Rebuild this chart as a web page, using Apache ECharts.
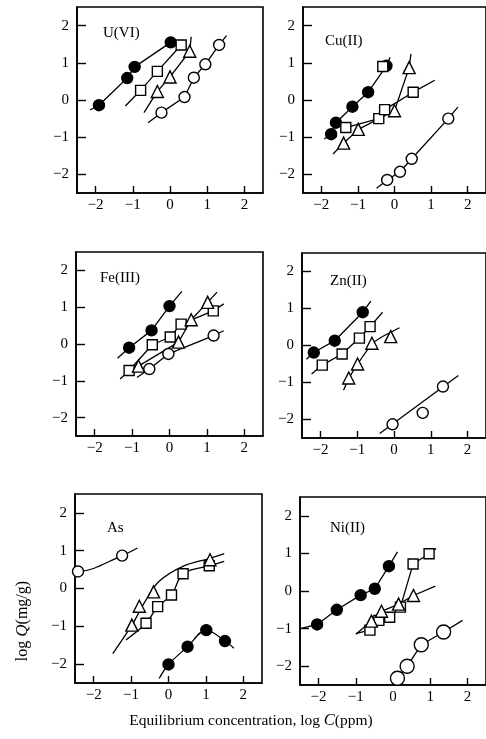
<!DOCTYPE html>
<html>
<head>
<meta charset="utf-8">
<script src="https://cdn.jsdelivr.net/npm/echarts@6/dist/echarts.min.js"></script>
<style>
  html, body { margin: 0; padding: 0; background: #fff; }
  #main { width: 486px; height: 739px; }
</style>
</head>
<body>
<div id="main"></div>
<script>
// tick values and panel names
var tickValues = [-2, -1, 0, 1, 2];
var panelNames = ['U(VI)', 'Cu(II)', 'Fe(III)', 'Zn(II)', 'As', 'Ni(II)'];

// U(VI)
var uFilled = [[-1.91, -0.14], [-1.15, 0.59], [-0.95, 0.89], [0.02, 1.55]];
var uFilledFit = [[-2.15, -0.27], [-1.91, -0.14], [-1.15, 0.59], [-0.95, 0.89], [0.02, 1.55]];
var uSquare = [[-0.79, 0.26], [-0.34, 0.77], [0.30, 1.48]];
var uSquareFit = [[-1.2, -0.16], [-0.79, 0.26], [-0.34, 0.77], [0.30, 1.48], [0.35, 1.52]];
var uTriangle = [[-0.34, 0.23], [0.0, 0.62], [0.53, 1.31]];
var uTriangleFit = [[-0.70, -0.34], [-0.34, 0.23], [0.0, 0.62], [0.53, 1.31], [0.57, 1.70]];
var uCircle = [[-0.23, -0.34], [0.39, 0.08], [0.64, 0.60], [0.95, 0.96], [1.32, 1.48]];
var uCircleFit = [[-0.59, -0.61], [-0.23, -0.34], [0.39, 0.08], [0.64, 0.60], [0.95, 0.96], [1.32, 1.48], [1.52, 1.73]];

// Cu(II)
var cuFilled = [[-1.73, -0.92], [-1.6, -0.61], [-1.15, -0.18], [-0.72, 0.21], [-0.22, 0.92]];
var cuFilledFit = [[-1.92, -1.05], [-1.73, -0.92], [-1.6, -0.61], [-1.15, -0.18], [-0.72, 0.21], [-0.22, 0.92], [-0.12, 1.15]];
var cuSquare = [[-1.33, -0.74], [-0.43, -0.5], [-0.27, -0.26], [0.51, 0.21], [-0.32, 0.9]];
var cuSquareFit = [[-1.33, -0.74], [-0.43, -0.5], [-0.27, -0.26], [0.51, 0.21], [1.1, 0.53]];
var cuTriangle = [[-1.39, -1.16], [-0.99, -0.79], [0.0, -0.29], [0.40, 0.87]];
var cuTriangleFit = [[-1.68, -1.45], [-1.39, -1.16], [-0.99, -0.79], [0.0, -0.29], [0.40, 0.87], [0.45, 1.24]];
var cuCircle = [[-0.2, -2.15], [0.15, -1.93], [0.47, -1.58], [1.47, -0.5]];
var cuCircleFit = [[-0.49, -2.37], [-0.2, -2.15], [0.15, -1.93], [0.47, -1.58], [1.47, -0.5], [1.73, -0.19]];

// Fe(III)
var feFilled = [[-1.08, -0.1], [-0.48, 0.37], [0, 1.03]];
var feFilledFit = [[-1.39, -0.39], [-1.08, -0.1], [-0.48, 0.37], [0, 1.03], [0.33, 1.43]];
var feSquare = [[-1.08, -0.72], [-0.46, -0.02], [0.02, 0.19], [0.31, 0.54], [1.17, 0.9]];
var feSquareFit = [[-1.32, -0.95], [-1.08, -0.72], [-0.46, -0.02], [0.02, 0.19], [0.31, 0.54], [1.17, 0.9], [1.45, 1.09]];
var feTriangle = [[-0.83, -0.6], [0.24, 0.05], [0.58, 0.66], [1.02, 1.13]];
var feTriangleFit = [[-1.0, -0.75], [-0.83, -0.6], [0.24, 0.05], [0.58, 0.66], [1.02, 1.13], [1.27, 1.41]];
var feCircle = [[-0.54, -0.68], [-0.03, -0.27], [1.18, 0.23]];
var feCircleFit = [[-0.87, -0.91], [-0.54, -0.68], [-0.03, -0.27], [1.18, 0.23], [1.45, 0.36]];

// Zn(II)
var znFilled = [[-2.18, -0.19], [-1.61, 0.13], [-0.85, 0.9]];
var znFilledFit = [[-2.38, -0.37], [-2.18, -0.19], [-1.61, 0.13], [-0.85, 0.9], [-0.63, 1.2]];
var znSquare = [[-1.95, -0.53], [-1.41, -0.23], [-0.94, 0.2], [-0.65, 0.51]];
var znSquareFit = [[-2.24, -0.77], [-1.95, -0.53], [-1.41, -0.23], [-0.94, 0.2], [-0.65, 0.51], [-0.31, 0.9]];
var znTriangle = [[-1.23, -0.88], [-0.99, -0.5], [-0.6, 0.06], [-0.09, 0.24]];
var znTriangleFit = [[-1.37, -1.21], [-1.23, -0.88], [-0.99, -0.5], [-0.6, 0.06], [-0.3, 0.25], [0.15, 0.48]];
var znCircle = [[-0.04, -2.13], [0.78, -1.82], [1.33, -1.11]];
var znCircleFit = [[-0.39, -2.38], [1.75, -0.81]];

// As
var asFilled = [[0, -2.01], [0.51, -1.54], [1.01, -1.1], [1.51, -1.39]];
var asFilledFit = [[-0.25, -2.38], [0, -2.01], [0.51, -1.54], [1.01, -1.1], [1.51, -1.39], [1.75, -1.58]];
var asSquare = [[-0.6, -0.92], [-0.29, -0.48], [0.08, -0.17], [0.39, 0.39], [1.09, 0.6]];
var asSquareFit = [[-1.14, -1.36], [-0.6, -0.92], [-0.29, -0.48], [0.08, -0.17], [0.39, 0.39], [1.09, 0.6], [1.49, 0.72]];
var asTriangle = [[-0.98, -0.97], [-0.78, -0.47], [-0.4, -0.09], [1.11, 0.76]];
var asTriangleFit = [[-1.49, -1.72], [-0.98, -0.97], [-0.6, -0.3], [-0.25, 0.19], [0.37, 0.58], [1.11, 0.8], [1.49, 0.92]];
var asCircle = [[-2.42, 0.45], [-1.24, 0.87]];
var asCircleFit = [[-2.5, 0.45], [-2.42, 0.45], [-1.24, 0.87], [-0.83, 1.07]];

// Ni(II)
var niFilled = [[-2.04, -0.89], [-1.51, -0.5], [-0.87, -0.11], [-0.49, 0.06], [-0.11, 0.66]];
var niFilledFit = [[-2.49, -1.0], [-2.04, -0.89], [-1.51, -0.5], [-0.87, -0.11], [-0.49, 0.06], [-0.11, 0.66], [0.12, 1.04]];
var niSquare = [[-0.62, -1.04], [-0.38, -0.78], [-0.09, -0.70], [0.2, -0.43], [0.54, 0.72], [0.97, 0.99]];
var niSquareFit = [[-0.98, -1.13], [-0.62, -1.04], [-0.38, -0.78], [-0.09, -0.70], [0.2, -0.43], [0.54, 0.72], [0.97, 0.99], [1.16, 1.13]];
var niTriangle = [[-0.58, -0.8], [-0.31, -0.54], [0.15, -0.35], [0.55, -0.12]];
var niTriangleFit = [[-1.0, -1.15], [-0.58, -0.8], [-0.31, -0.54], [0.15, -0.35], [0.55, -0.12], [1.14, 0.13]];
var niCircle = [[0.12, -2.32], [0.38, -2.0], [0.76, -1.43], [1.36, -1.09]];
var niCircleFit = [[-0.04, -2.43], [0.12, -2.32], [0.38, -2.0], [0.76, -1.43], [1.36, -1.09], [1.87, -0.78]];

var font = '"Liberation Serif", "DejaVu Serif", serif';

// panel layout (pixels)
var grids = [
  { left: 77, top: 7, width: 186, height: 186 },
  { left: 303, top: 7, width: 186, height: 186 },
  { left: 76, top: 252, width: 187, height: 184 },
  { left: 302, top: 253, width: 186, height: 185 },
  { left: 75, top: 494, width: 187, height: 189 },
  { left: 300, top: 497, width: 186, height: 188 }
];
var titlePos = [[103, 26], [325, 34], [100, 271], [330, 274], [107, 521], [330, 521]];

var panels = [
  [[uFilled, uFilledFit], [uSquare, uSquareFit], [uTriangle, uTriangleFit], [uCircle, uCircleFit]],
  [[cuFilled, cuFilledFit], [cuSquare, cuSquareFit], [cuTriangle, cuTriangleFit], [cuCircle, cuCircleFit]],
  [[feFilled, feFilledFit], [feSquare, feSquareFit], [feTriangle, feTriangleFit], [feCircle, feCircleFit]],
  [[znFilled, znFilledFit], [znSquare, znSquareFit], [znTriangle, znTriangleFit], [znCircle, znCircleFit]],
  [[asFilled, asFilledFit], [asSquare, asSquareFit], [asTriangle, asTriangleFit], [asCircle, asCircleFit]],
  [[niFilled, niFilledFit], [niSquare, niSquareFit], [niTriangle, niTriangleFit], [niCircle, niCircleFit]]
];

// filled circle, open square, open triangle, open circle
var markers = [
  { symbol: 'circle', size: 11, fill: '#000' },
  { symbol: 'rect', size: 10, fill: '#fff' },
  { symbol: 'triangle', size: 12, fill: '#fff' },
  { symbol: 'circle', size: 11, fill: '#fff' }
];

function tickLabel(v) {
  return v < 0 ? '\u2212' + Math.abs(v) : String(v);
}

var xAxis = [], yAxis = [], series = [], graphic = [];

grids.forEach(function (g, i) {
  xAxis.push({
    type: 'value', gridIndex: i, min: -2.5, max: 2.5,
    axisLine: { show: true, onZero: false, lineStyle: { color: '#000', width: 1.6 } },
    axisTick: { inside: true, length: 7, lineStyle: { color: '#000', width: 1.4 }, customValues: tickValues },
    axisLabel: { color: '#000', fontFamily: font, fontSize: 15, margin: 5, customValues: tickValues, formatter: tickLabel },
    splitLine: { show: false }
  });
  yAxis.push({
    type: 'value', gridIndex: i, min: -2.5, max: 2.5,
    axisLine: { show: true, onZero: false, lineStyle: { color: '#000', width: 1.6 } },
    axisTick: { inside: true, length: 9, lineStyle: { color: '#000', width: 1.4 }, customValues: tickValues },
    axisLabel: { color: '#000', fontFamily: font, fontSize: 15, margin: 8, customValues: tickValues, formatter: tickLabel },
    splitLine: { show: false }
  });

  panels[i].forEach(function (set, k) {
    var m = markers[k];
    series.push({
      type: 'line', xAxisIndex: i, yAxisIndex: i,
      data: set[1], showSymbol: false, silent: true,
      smooth: i === 4 ? 0.35 : false,
      lineStyle: { color: '#000', width: 1.3 }, z: 2
    });
    series.push({
      type: 'scatter', xAxisIndex: i, yAxisIndex: i,
      data: set[0], symbol: m.symbol,
      symbolSize: (i === 5 && k === 3) ? 14 : m.size,
      itemStyle: { color: m.fill, borderColor: '#000', borderWidth: 1.4, opacity: 1 },
      z: 3
    });
  });

  graphic.push({
    type: 'text', left: titlePos[i][0], top: titlePos[i][1],
    style: { text: panelNames[i], fontFamily: font, fontSize: 15, fill: '#000' }
  });
});

graphic.push({
  type: 'text', x: 23, y: 621, rotation: Math.PI / 2,
  style: {
    text: 'log {i|Q}(mg/g)', fontFamily: font, fontSize: 16, fill: '#000',
    align: 'center', verticalAlign: 'middle',
    rich: { i: { fontStyle: 'italic', fontFamily: font, fontSize: 17 } }
  }
});
graphic.push({
  type: 'text', x: 251, y: 721,
  style: {
    text: 'Equilibrium concentration, log {i|C}(ppm)', fontFamily: font, fontSize: 15.5, fill: '#000',
    align: 'center', verticalAlign: 'middle',
    rich: { i: { fontStyle: 'italic', fontFamily: font, fontSize: 16.5 } }
  }
});

var myChart = echarts.init(document.getElementById('main'));
myChart.setOption({
  animation: false,
  backgroundColor: '#fff',
  grid: grids.map(function (g) {
    return { left: g.left, top: g.top, width: g.width, height: g.height, show: true, borderColor: '#000', borderWidth: 1.6, containLabel: false };
  }),
  xAxis: xAxis,
  yAxis: yAxis,
  series: series,
  graphic: graphic
});
</script>
</body>
</html>
